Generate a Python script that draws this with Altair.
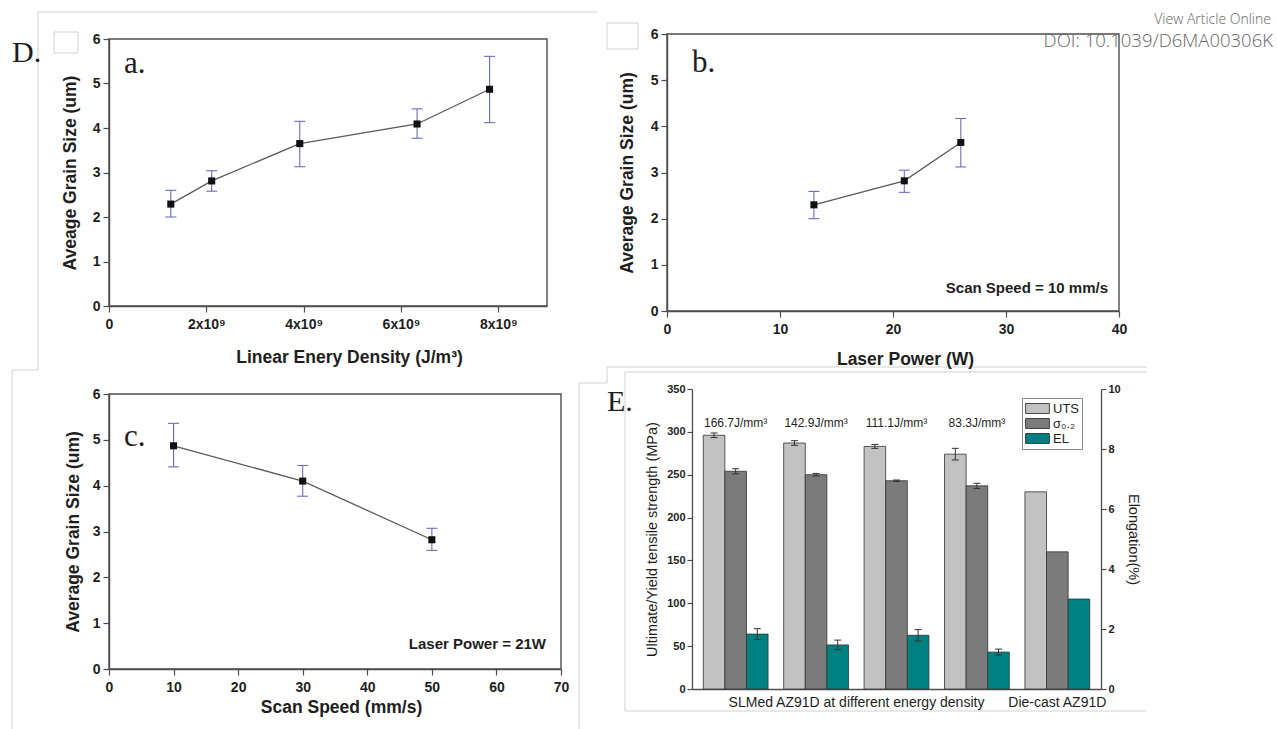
import altair as alt
import pandas as pd

# ---------------- data ----------------
a_energy = [1.27e9, 2.11e9, 3.92e9, 6.33e9, 7.82e9]
a_size = [2.29, 2.81, 3.65, 4.09, 4.87]
a_low = [2.00, 2.58, 3.13, 3.77, 4.12]
a_high = [2.60, 3.04, 4.15, 4.43, 5.61]
a_ticks = [0, 2e9, 4e9, 6e9, 8e9]

b_power = [13, 21, 26]
b_size = [2.30, 2.82, 3.65]
b_low = [2.00, 2.57, 3.12]
b_high = [2.59, 3.05, 4.17]
b_ticks = [0, 10, 20, 30, 40]

c_speed = [10, 30, 50]
c_size = [4.87, 4.10, 2.82]
c_low = [4.41, 3.77, 2.59]
c_high = [5.36, 4.44, 3.07]
c_ticks = [0, 10, 20, 30, 40, 50, 60, 70]

grain_ticks = [0, 1, 2, 3, 4, 5, 6]

e_groups = ["g1", "g2", "g3", "g4", "g5"]
e_energy_labels = ["166.7J/mm³", "142.9J/mm³", "111.1J/mm³", "83.3J/mm³"]
e_series = ["UTS", "σ₀.₂", "EL"]
e_uts = [296, 287, 283, 274, 230]
e_uts_err = [2.7, 2.7, 2.3, 6.8, 0]
e_sig = [254, 250, 243, 237, 160]
e_sig_err = [3.0, 1.5, 0.8, 3.0, 0]
e_el = [1.83, 1.47, 1.79, 1.23, 3.0]
e_el_err = [0.18, 0.16, 0.19, 0.10, 0]
e_strength_ticks = [0, 50, 100, 150, 200, 250, 300, 350]
e_el_ticks = [0, 2, 4, 6, 8, 10]
e_xlabels = ["SLMed AZ91D at different energy density", "Die-cast AZ91D"]

# ---------------- style ----------------
SANS = "Liberation Sans, Arial, sans-serif"
NARROW = "Liberation Sans Narrow, Arial Narrow, Liberation Sans, sans-serif"
SERIF = "Liberation Serif, Times New Roman, serif"
UI = "Open Sans, Noto Sans, sans-serif"
AX = "#4d4d4d"
TXT = "#1e1e1e"
ERR = "#6d6db8"
DECO = "#d2d2d2"

ONE = alt.Data(values=[{"k": 0}])


def label(text, x, y, size, font, weight="normal", align="left",
          baseline="alphabetic", color=TXT):
    return alt.Chart(ONE).mark_text(
        text=text, align=align, baseline=baseline, font=font,
        fontSize=size, fontWeight=weight, color=color
    ).encode(x=alt.value(x), y=alt.value(y))


def box(x, x2, y, y2, color=DECO, width=1):
    return alt.Chart(ONE).mark_rect(
        fillOpacity=0, stroke=color, strokeWidth=width
    ).encode(x=alt.value(x), x2=alt.value(x2), y=alt.value(y), y2=alt.value(y2))


def line(x, y, x2, y2, color=DECO):
    return alt.Chart(ONE).mark_rule(color=color, strokeWidth=1).encode(
        x=alt.value(x), y=alt.value(y), x2=alt.value(x2), y2=alt.value(y2))


def grain_panel(xv, yv, lo, hi, xdom, xticks, xtitle, ytitle, width, height,
                xrange_=None, yrange_=None, label_expr=None, xtitle_x=None,
                xtitle_pad=11, ytitle_pad=14, yaxis_offset=0, extra=()):
    df = pd.DataFrame({"x": xv, "y": yv, "lo": lo, "hi": hi})
    xs_kw = dict(domain=xdom, nice=False, zero=False)
    if xrange_ is not None:
        xs_kw["range"] = xrange_
    ys_kw = dict(domain=[0, 6], nice=False, zero=False)
    if yrange_ is not None:
        ys_kw["range"] = yrange_
    common = dict(grid=False, tickSize=6, tickColor=AX, tickWidth=1.2,
                  domainColor=AX, domainWidth=1.4, labelFont=SANS,
                  labelFontSize=14, labelFontWeight="bold", labelColor=TXT,
                  titleFont=SANS, titleFontSize=17.5, titleFontWeight="bold",
                  titleColor=TXT)
    xa = dict(values=xticks, title=xtitle, labelFlush=False, labelOverlap=False,
              labelPadding=5, titlePadding=xtitle_pad, **common)
    if label_expr is not None:
        xa["labelExpr"] = label_expr
    if xtitle_x is not None:
        xa["titleX"] = xtitle_x
    xaxis = alt.Axis(**xa)
    ya = dict(values=grain_ticks, title=ytitle, labelPadding=3,
              titlePadding=ytitle_pad, **common)
    if yaxis_offset:
        ya["offset"] = yaxis_offset
    yaxis = alt.Axis(**ya)

    def X(f):
        return alt.X(f"{f}:Q", scale=alt.Scale(**xs_kw), axis=xaxis)

    def Y(f):
        return alt.Y(f"{f}:Q", scale=alt.Scale(**ys_kw), axis=yaxis)

    frame_df = pd.DataFrame({"x": [xdom[0]], "x2": [xdom[1]], "lo": [0], "hi": [6]})
    frame = alt.Chart(frame_df).mark_rect(
        fillOpacity=0, stroke=AX, strokeWidth=1.4
    ).encode(x=X("x"), x2="x2:Q", y=Y("lo"), y2="hi:Q")
    base = alt.Chart(df)
    rules = base.mark_rule(color=ERR, strokeWidth=1.1).encode(
        x=X("x"), y=Y("lo"), y2="hi:Q")
    caps = base.transform_fold(["lo", "hi"], as_=["k", "cap"]).mark_point(
        shape="stroke", size=121, filled=False, stroke=ERR, strokeWidth=1.1,
        opacity=1
    ).encode(x=X("x"), y=Y("cap"))
    ln = base.mark_line(color="#5a5a5a", strokeWidth=1.3).encode(x=X("x"), y=Y("y"))
    pts = base.mark_square(size=50, color="#111111", opacity=1).encode(
        x=X("x"), y=Y("y"))
    return alt.layer(frame, rules, caps, ln, pts, *extra).properties(
        width=width, height=height)


# ---------- panel a (view origin 109,34) ----------
OA = (109, 34)
deco = [
    line(38 - OA[0], 12 - OA[1], 597 - OA[0], 12 - OA[1]),
    line(38 - OA[0], 12 - OA[1], 38 - OA[0], 370 - OA[1]),
    line(12 - OA[0], 370 - OA[1], 38 - OA[0], 370 - OA[1]),
    line(12 - OA[0], 370 - OA[1], 12 - OA[0], 729 - OA[1]),
    line(579 - OA[0], 383 - OA[1], 607 - OA[0], 383 - OA[1]),
    line(607 - OA[0], 367 - OA[1], 607 - OA[0], 383 - OA[1]),
    line(607 - OA[0], 367 - OA[1], 1147 - OA[0], 367 - OA[1]),
    line(579 - OA[0], 383 - OA[1], 579 - OA[0], 729 - OA[1]),
    line(625 - OA[0], 372 - OA[1], 1147 - OA[0], 372 - OA[1]),
    line(625 - OA[0], 372 - OA[1], 625 - OA[0], 711 - OA[1]),
    line(625 - OA[0], 711 - OA[1], 1146 - OA[0], 711 - OA[1]),
]
panel_a = grain_panel(
    a_energy, a_size, a_low, a_high, [0, 9e9], a_ticks,
    "Linear Enery Density (J/m³)", "Aveage Grain Size (um)", 427, 272,
    xrange_=[0, 438], yrange_=[272, 5],
    label_expr="datum.value == 0 ? '0' : format(datum.value / 1e9, 'd') + 'x10⁹'",
    xtitle_x=240, xtitle_pad=17, ytitle_pad=13,
    extra=deco + [
        label("D.", -97, 28, 30, SERIF),
        box(-55, -31, -2, 19),
        label("a.", 15, 39, 31, SERIF),
    ],
)

# ---------- panel b (view origin 692,34; plot starts at 667) ----------
panel_b = grain_panel(
    b_power, b_size, b_low, b_high, [0, 40], b_ticks,
    "Laser Power (W)", "Average Grain Size (um)", 427, 277,
    xrange_=[-25, 427], yaxis_offset=25,
    xtitle_x=213, xtitle_pad=14, ytitle_pad=14,
    extra=[
        box(-85, -54, -11, 15),
        label("b.", 0, 38, 31, SERIF),
        label("Scan Speed = 10 mm/s", 416, 254, 15, SANS, weight="bold",
              align="right", baseline="middle"),
        label("View Article Online", 579, -10, 14, UI, weight=300, align="right",
              color="#666666"),
        label("DOI: 10.1039/D6MA00306K", 581, 13, 18.5, UI, weight=300,
              align="right", color="#666666"),
    ],
)

# ---------- panel c (view origin 109,384) ----------
panel_c = grain_panel(
    c_speed, c_size, c_low, c_high, [0, 70], c_ticks,
    "Scan Speed (mm/s)", "Average Grain Size (um)", 452, 285,
    yrange_=[285, 10], xtitle_x=232, xtitle_pad=4, ytitle_pad=10,
    extra=[
        label("c.", 15, 62, 31, SERIF),
        label("Laser Power = 21W", 437, 260, 15, SANS, weight="bold",
              align="right", baseline="middle"),
    ],
)

# ---------- panel E (view origin 692,384; plot top 389) ----------
left_rows, right_rows = [], []
for i, g in enumerate(e_groups):
    left_rows.append({"g": g, "s": e_series[0], "v": e_uts[i],
                      "lo": e_uts[i] - e_uts_err[i], "hi": e_uts[i] + e_uts_err[i],
                      "err": e_uts_err[i]})
    left_rows.append({"g": g, "s": e_series[1], "v": e_sig[i],
                      "lo": e_sig[i] - e_sig_err[i], "hi": e_sig[i] + e_sig_err[i],
                      "err": e_sig_err[i]})
    right_rows.append({"g": g, "s": e_series[2], "v": e_el[i],
                       "lo": e_el[i] - e_el_err[i], "hi": e_el[i] + e_el_err[i],
                       "err": e_el_err[i]})
left_df = pd.DataFrame(left_rows)
right_df = pd.DataFrame(right_rows)
lab_df = pd.DataFrame({"g": e_groups[:4], "t": e_energy_labels, "ty": [310] * 4})

x_axis_e = alt.Axis(labels=False, ticks=False, title=None, domainColor=AX,
                    domainWidth=1.3)
x_scale_e = alt.Scale(domain=e_groups, paddingInner=0.194, paddingOuter=0.14)
XE = alt.X("g:N", scale=x_scale_e, axis=x_axis_e)
XO = alt.XOffset("s:N", scale=alt.Scale(domain=e_series, paddingInner=0,
                                        paddingOuter=0))
COL = alt.Color("s:N", scale=alt.Scale(domain=e_series,
                                       range=["#c2c2c2", "#7b7b7b", "#008080"]),
                legend=alt.Legend(orient="none", legendX=913, legendY=364, title=None,
                                  strokeColor="#8a8a8a", fillColor="white",
                                  padding=3, symbolType="M-1.7,-0.71H1.7V0.71H-1.7Z",
                                  symbolSize=196, symbolOffset=5,
                                  symbolStrokeColor="#222222",
                                  symbolStrokeWidth=0.8, symbolOpacity=1,
                                  labelFont=NARROW, labelFontSize=13,
                                  labelColor=TXT, rowPadding=0, labelOffset=8))

ecommon = dict(grid=False, tickSize=5, tickColor=AX, tickWidth=1.2,
               domainColor=AX, domainWidth=1.3, labelFont=SANS, labelFontSize=11,
               labelFontWeight="bold", labelColor=TXT, labelPadding=2,
               titleFont=SANS, titleFontSize=14.5, titleFontWeight="normal",
               titleColor=TXT)
yl_axis = alt.Axis(values=e_strength_ticks, orient="left",
                   title="Ultimate/Yield tensile strength (MPa)", titlePadding=7,
                   **ecommon)
yr_axis = alt.Axis(values=e_el_ticks, orient="right", title="Elongation(%)",
                   titlePadding=5, **ecommon)
yl_scale = alt.Scale(domain=[0, 350], nice=False, zero=False, range=[305, 5])
yr_scale = alt.Scale(domain=[0, 10], nice=False, zero=False, range=[305, 5])


def YL(f):
    return alt.Y(f"{f}:Q", scale=yl_scale, axis=yl_axis)


def YR(f):
    return alt.Y(f"{f}:Q", scale=yr_scale, axis=yr_axis)


def bar_group(df, Yf, with_labels=False):
    base = alt.Chart(df)
    bars = base.mark_bar(stroke="#333333", strokeWidth=0.8).encode(
        x=XE, xOffset=XO, y=Yf("v"), color=COL)
    errb = base.transform_filter("datum.err > 0")
    rules = errb.mark_rule(color="#333333", strokeWidth=1).encode(
        x=XE, xOffset=XO, y=Yf("lo"), y2="hi:Q")
    caps = errb.transform_fold(["lo", "hi"], as_=["k", "cap"]).mark_point(
        shape="stroke", size=49, filled=False, stroke="#333333", strokeWidth=1,
        opacity=1).encode(x=XE, xOffset=XO, y=Yf("cap"))
    layers = [bars, rules, caps]
    if with_labels:
        layers.append(alt.Chart(lab_df).mark_text(
            font=NARROW, fontSize=12, color=TXT, baseline="middle"
        ).encode(x=XE, y=Yf("ty"), text="t:N"))
    return alt.layer(*layers)


xl_df = pd.DataFrame({"g": ["g2"], "t": [e_xlabels[0]]})
xl2_df = pd.DataFrame({"g": ["g5"], "t": [e_xlabels[1]]})
xlab1 = alt.Chart(xl_df).mark_text(font=NARROW, fontSize=14, color=TXT,
                                   baseline="middle", dx=8).encode(
    x=alt.X("g:N", scale=x_scale_e, axis=x_axis_e, bandPosition=1),
    y=alt.value(319), text="t:N")
xlab2 = alt.Chart(xl2_df).mark_text(font=NARROW, fontSize=14, color=TXT,
                                    baseline="middle").encode(
    x=XE, y=alt.value(319), text="t:N")

panel_e = alt.layer(
    bar_group(left_df, YL, with_labels=True),
    bar_group(right_df, YR),
    xlab1, xlab2,
    label("E.", -85, 27, 30, SERIF),
).resolve_scale(y="independent").properties(width=409, height=305)

chart = alt.concat(panel_a, panel_b, panel_c, panel_e, columns=2).properties(
    spacing={"row": 73, "column": 131},
    align="none",
    bounds="flush",
    padding={"left": 109, "top": 34, "right": 1277 - 109, "bottom": 729 - 34},
    autosize=alt.AutoSizeParams(type="none"),
    background="white",
).configure_view(strokeWidth=0)

chart.save("out.html", embed_options={"renderer": "svg", "actions": False})
